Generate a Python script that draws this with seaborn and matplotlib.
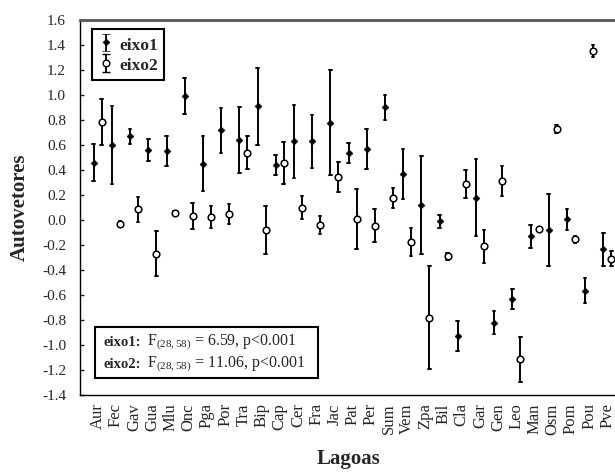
import numpy as np
import pandas as pd
import matplotlib
matplotlib.use("Agg")
import matplotlib.pyplot as plt
import matplotlib.patches as mpatches
import seaborn as sns

categories = ["Aur", "Fec", "Gav", "Gua", "Mlu", "Onc", "Pga", "Por", "Tra", "Bip",
              "Cap", "Cer", "Fra", "Jac", "Pat", "Per", "Sum", "Vem", "Zpa", "Bil",
              "Cla", "Gar", "Gen", "Leo", "Man", "Osm", "Pom", "Pou", "Pve"]

eixo1_mean = [0.46, 0.60, 0.67, 0.56, 0.55, 0.99, 0.45, 0.72, 0.64, 0.91,
              0.44, 0.63, 0.63, 0.78, 0.54, 0.57, 0.90, 0.37, 0.12, -0.01,
              -0.93, 0.18, -0.82, -0.635, -0.13, -0.08, 0.005, -0.565, -0.235]
eixo1_err = [0.145, 0.31, 0.06, 0.09, 0.12, 0.145, 0.22, 0.18, 0.26, 0.31,
             0.08, 0.29, 0.21, 0.42, 0.08, 0.16, 0.10, 0.20, 0.39, 0.05,
             0.12, 0.31, 0.09, 0.08, 0.09, 0.29, 0.085, 0.10, 0.13]

eixo2_mean = [0.785, -0.03, 0.085, -0.27, 0.055, 0.03, 0.025, 0.045, 0.54, -0.08,
              0.455, 0.10, -0.04, 0.345, 0.005, -0.045, 0.18, -0.175, -0.78, -0.29,
              0.29, -0.21, 0.31, -1.115, -0.075, 0.73, -0.155, 1.35, -0.31]
eixo2_err = [0.185, 0.02, 0.10, 0.18, 0.015, 0.105, 0.085, 0.08, 0.13, 0.19,
             0.17, 0.095, 0.075, 0.12, 0.24, 0.13, 0.08, 0.115, 0.41, 0.03,
             0.11, 0.13, 0.12, 0.18, 0.01, 0.03, 0.03, 0.05, 0.06]

series_names = ["eixo1", "eixo2"]
stats_labels = ["eixo1:", "eixo2:"]
stats_texts = [r"F$_{(28,58)}$ = 6.59, p<0.001",
               r"F$_{(28,58)}$ = 11.06, p<0.001"]

# long table: lower bound, mean, upper bound per category/series
rows = []
for name, means, errs in [("eixo1", eixo1_mean, eixo1_err), ("eixo2", eixo2_mean, eixo2_err)]:
    for c, m, e in zip(categories, means, errs):
        for v in (m - e, m, m + e):
            rows.append({"Lagoa": c, "eixo": name, "valor": v})
df = pd.DataFrame(rows)

sns.set_style("ticks")
plt.rcParams["font.family"] = ["Liberation Serif", "DejaVu Serif"]
plt.rcParams["mathtext.fontset"] = "custom"
plt.rcParams["mathtext.rm"] = "Liberation Serif"
plt.rcParams["mathtext.bf"] = "Liberation Serif:bold"
plt.rcParams["mathtext.it"] = "Liberation Serif:italic"
plt.rcParams["axes.unicode_minus"] = False

fig = plt.figure(figsize=(6.15, 4.73), dpi=100)
ax = fig.add_axes([80 / 615, 78 / 473, 537 / 615, 375 / 473])

sns.pointplot(data=df, x="Lagoa", y="valor", hue="eixo", order=categories,
              hue_order=series_names, estimator="mean", errorbar=("pi", 100),
              dodge=0.44, markers=["D", "o"], linestyle="none",
              palette=["black", "black"], capsize=0.14,
              err_kws={"linewidth": 1.4}, legend=False, ax=ax)

for ln in ax.lines:
    mk = ln.get_marker()
    if mk == "o":
        ln.set_markerfacecolor("white")
        ln.set_markeredgecolor("black")
        ln.set_markersize(4.8)
        ln.set_markeredgewidth(1.1)
        ln.set_zorder(5)
    elif mk == "D":
        ln.set_markersize(3.4)
        ln.set_markeredgewidth(0.5)
        ln.set_zorder(5)

ax.set_xlim(-0.973, 28.53)
ax.set_ylim(-1.4, 1.6)
yt = np.round(np.arange(-1.4, 1.61, 0.2), 1)
ax.set_yticks(yt)
ax.set_yticklabels([f"{v:.1f}" if abs(v) > 1e-9 else "0.0" for v in yt], fontsize=11)
ax.tick_params(axis="y", direction="in", length=3, width=1, pad=10)

ax.set_xticks(range(len(categories)))
ax.set_xticklabels(categories, rotation=90, fontsize=12)
ax.tick_params(axis="x", which="major", length=0, pad=6)
ax.set_xticks(range(0, len(categories), 2), minor=True)
ax.tick_params(axis="x", which="minor", direction="in", length=4, width=1)

ax.set_xlabel("Lagoas", fontsize=15, fontweight="bold", labelpad=10)
ax.set_ylabel("Autovetores", fontsize=15, fontweight="bold", labelpad=9)

for side in ["left", "bottom"]:
    ax.spines[side].set_color("black")
    ax.spines[side].set_linewidth(1.0)
ax.spines["top"].set_color("#555555")
ax.spines["top"].set_linewidth(2.0)
ax.spines["right"].set_visible(False)

# legend handles
h1 = ax.errorbar([np.nan], [np.nan], yerr=[1], fmt="D", color="black", ms=3.4,
                 mew=0.5, capsize=3, elinewidth=1.3)
h2 = ax.errorbar([np.nan], [np.nan], yerr=[1], fmt="o", color="black", mfc="white",
                 ms=4.8, capsize=3, elinewidth=1.3)
leg = ax.legend([h1, h2], series_names, loc="upper left",
                bbox_to_anchor=(0.022, 0.976), borderaxespad=0, fancybox=False,
                edgecolor="black", framealpha=1, prop={"weight": "bold", "size": 12.5},
                handlelength=0.9, handletextpad=0.35, labelspacing=0.1, borderpad=0.35,
                handleheight=1.2)
leg.get_frame().set_linewidth(1.5)

# statistics box
box = mpatches.Rectangle((0.028, 0.045), 0.415, 0.136, transform=ax.transAxes,
                         facecolor="white", edgecolor="black", linewidth=1.5, zorder=6)
ax.add_patch(box)
for lab, txt, yb in zip(stats_labels, stats_texts, [0.132, 0.073]):
    ax.text(0.043, yb, lab, transform=ax.transAxes, fontsize=10.5, fontweight="bold",
            ha="left", va="baseline", zorder=7)
    ax.text(0.125, yb, txt, transform=ax.transAxes, fontsize=11.5,
            ha="left", va="baseline", zorder=7)

fig.savefig("out.png", dpi=100)
